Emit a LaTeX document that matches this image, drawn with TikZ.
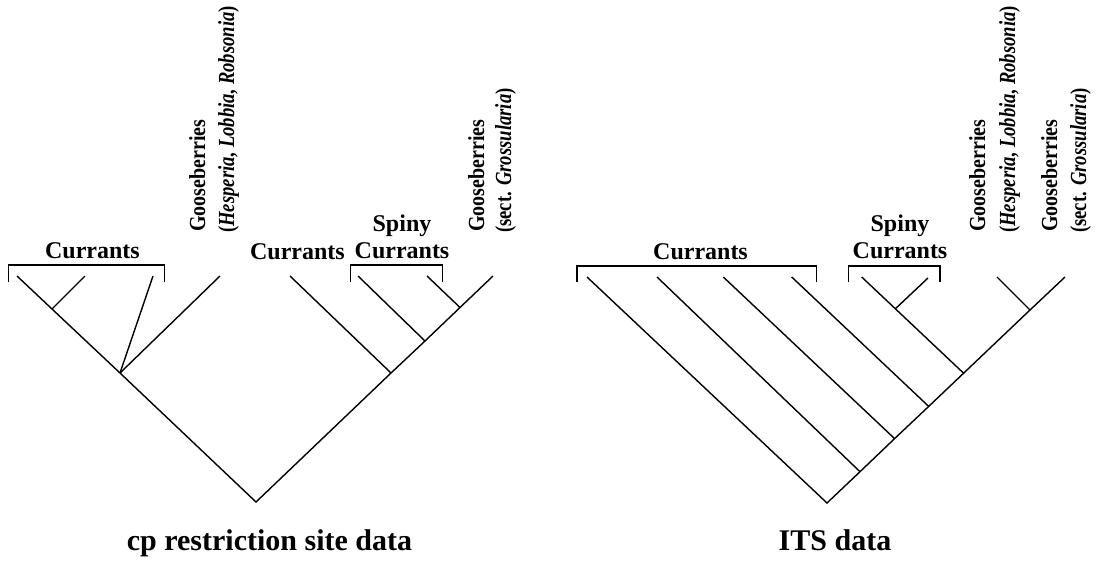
\documentclass[tikz,border=0pt]{standalone}
\usepackage{fontspec}
\setmainfont{Liberation Serif}
\newcommand{\gsq}[1]{\scalebox{0.87}[1]{#1}}
\newcommand{\psq}[1]{\scalebox{0.81}[1]{#1}}
\begin{document}
\begin{tikzpicture}[x=1pt,y=-1pt,
  br/.style={line width=1.4pt},
  brk/.style={line width=1.7pt},
  hlab/.style={inner sep=0pt,font=\fontsize{24}{27}\selectfont\bfseries,align=center},
  vlab/.style={inner sep=0pt,rotate=90,anchor=base west,font=\fontsize{23}{26}\selectfont\bfseries},
  caplab/.style={inner sep=0pt,anchor=base,font=\fontsize{30}{34}\selectfont\bfseries}]
\useasboundingbox (0,0) rectangle (1100,562);
% ---------- left tree ----------
\coordinate (r1) at (256,502);
\coordinate (l1) at (17,276);
\coordinate (A) at (52,309);
\coordinate (a1) at (85,276);
\coordinate (B) at (120,373);
\coordinate (b1) at (153,276);
\coordinate (b2) at (220,276);
\coordinate (C) at (391,373);
\coordinate (c1) at (290,276);
\coordinate (D) at (425,341);
\coordinate (d1) at (358,276);
\coordinate (E) at (460,307.5);
\coordinate (e1) at (427,276);
\coordinate (e2) at (493,276);
\draw[br] (l1) -- (A) -- (B) -- (r1) -- (C) -- (D) -- (E) -- (e2);
\draw[br] (A) -- (a1);
\draw[br] (B) -- (b1);
\draw[br] (B) -- (b2);
\draw[br] (C) -- (c1);
\draw[br] (D) -- (d1);
\draw[br] (E) -- (e1);
% brackets
\coordinate (k1a) at (8.5,282);
\coordinate (k1b) at (164.5,282);
\draw[brk] (k1a) -- ++(0,-17) -| (k1b);
\coordinate (k2a) at (350.5,282);
\coordinate (k2b) at (442.5,282);
\draw[brk] (k2a) -- ++(0,-17) -| (k2b);
% labels
\node[hlab,anchor=base] (t1) at (92.5,258) {Currants};
\node[hlab,anchor=base] (t2) at (297.5,259) {Currants};
\node[hlab,anchor=south] (t3) at (402,259) {Spiny\\Currants};
\node[vlab] (g1) at (205,232) {\gsq{Gooseberries}};
\node[vlab] (h1) at (234,233) {\psq{(\textit{Hesperia}, \textit{Lobbia}, \textit{Robsonia})}};
\node[vlab] (g2) at (484,232) {\gsq{Gooseberries}};
\node[vlab] (h2) at (511,233) {\psq{(sect. \textit{Grossularia})}};
\node[caplab] (cap1) at (269.5,550) {cp restriction site data};
% ---------- right tree ----------
\coordinate (r2) at (827,503);
\coordinate (m0) at (587,277);
\coordinate (n1) at (860,471.7);
\coordinate (m1) at (657,277);
\coordinate (n2) at (894.6,438.6);
\coordinate (m2) at (723.3,277);
\coordinate (n3) at (928.7,406.4);
\coordinate (m3) at (791.7,277);
\coordinate (n4) at (963.6,373.2);
\coordinate (m4) at (861.7,277);
\coordinate (S) at (895.3,308.8);
\coordinate (s1) at (928,278);
\coordinate (G) at (1030,310);
\coordinate (g1e) at (997,277);
\coordinate (g2e) at (1065,277);
\draw[br] (m0) -- (r2) -- (n1) -- (n2) -- (n3) -- (n4) -- (G) -- (g2e);
\draw[br] (n1) -- (m1);
\draw[br] (n2) -- (m2);
\draw[br] (n3) -- (m3);
\draw[br] (n4) -- (m4);
\draw[br] (S) -- (s1);
\draw[br] (G) -- (g1e);
\coordinate (k3a) at (577,282);
\coordinate (k3b) at (816.5,282);
\draw[brk] (k3a) -- ++(0,-16) -| (k3b);
\coordinate (k4a) at (848.5,282);
\coordinate (k4b) at (940,282);
\draw[brk] (k4a) -- ++(0,-16) -| (k4b);
\node[hlab,anchor=base] (t4) at (700.5,259) {Currants};
\node[hlab,anchor=south] (t5) at (900,259) {Spiny\\Currants};
\node[vlab] (g3) at (985,232) {\gsq{Gooseberries}};
\node[vlab] (h3) at (1015,233) {\psq{(\textit{Hesperia}, \textit{Lobbia}, \textit{Robsonia})}};
\node[vlab] (g4) at (1057,232) {\gsq{Gooseberries}};
\node[vlab] (h4) at (1086,233) {\psq{(sect. \textit{Grossularia})}};
\node[caplab] (cap2) at (835,550) {ITS data};
\end{tikzpicture}
\end{document}
